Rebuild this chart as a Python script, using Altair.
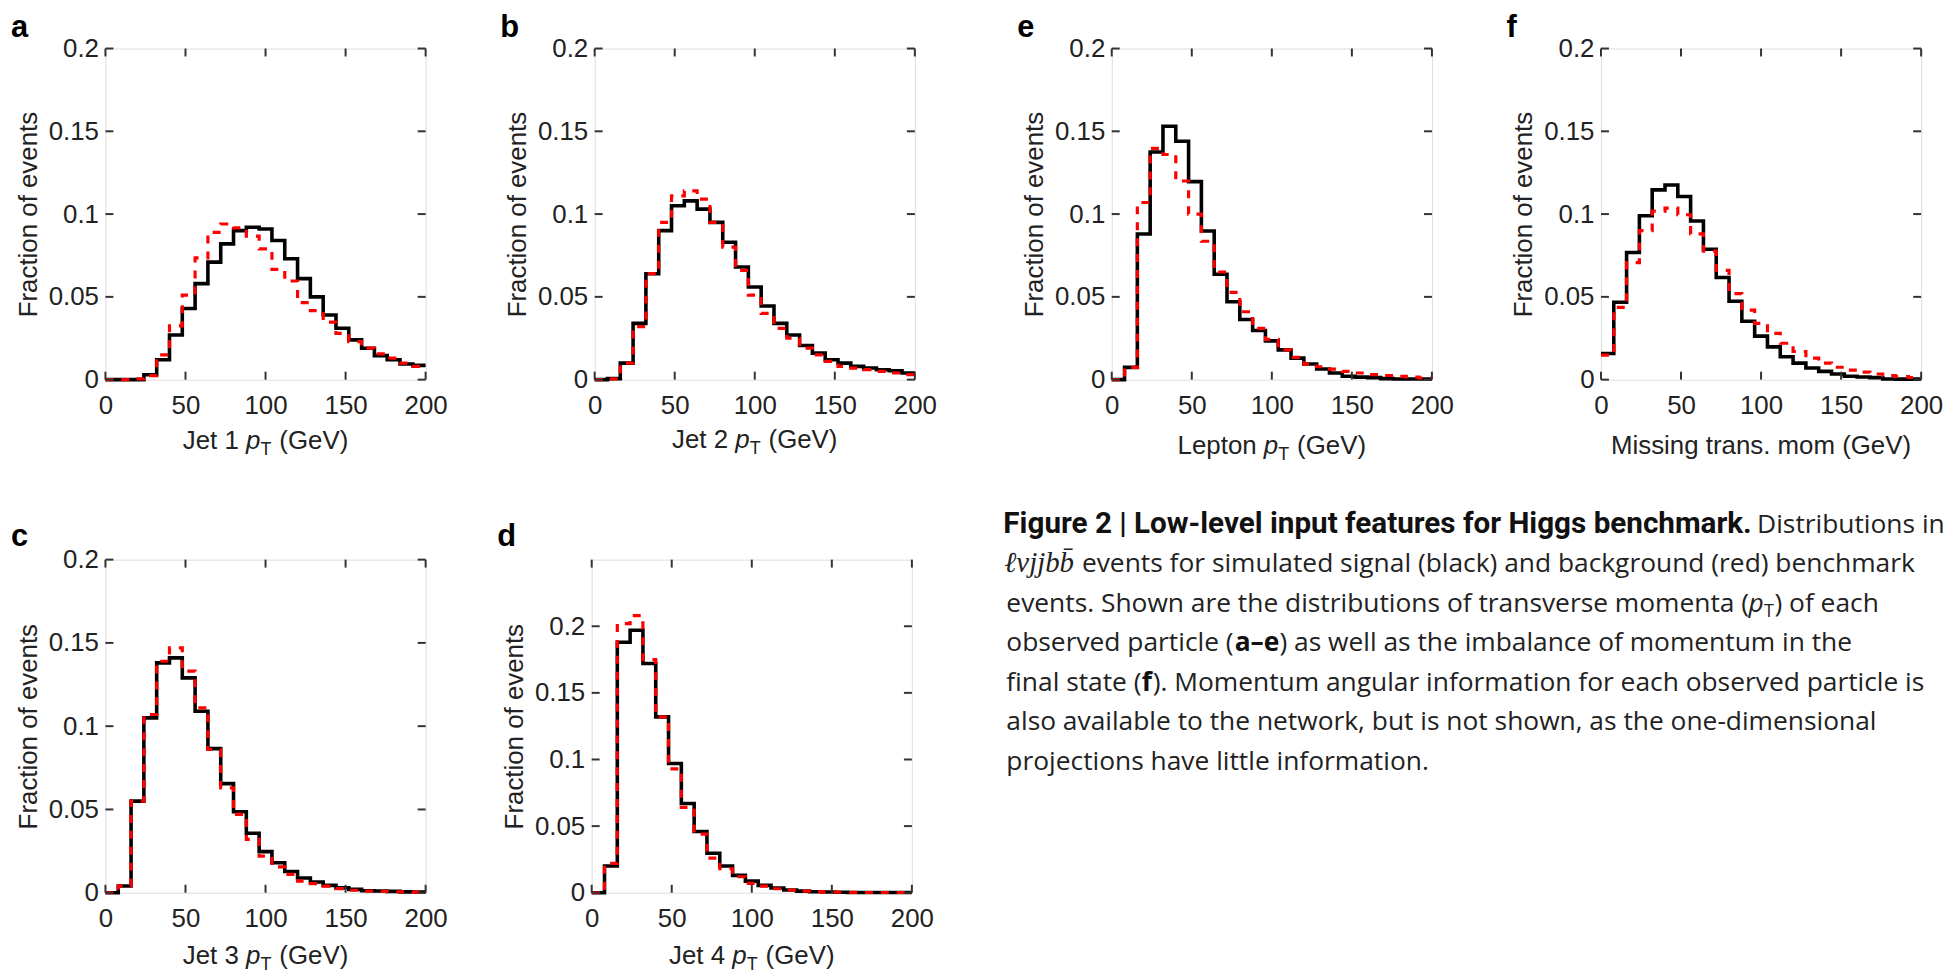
import altair as alt
import pandas as pd

# ------------------------------------------------------------------ data
bin_edges_gev = list(range(0, 201, 8))          # 25 bins of 8 GeV
x_tick_values = [0, 50, 100, 150, 200]
y_tick_values = [0, 0.05, 0.1, 0.15, 0.2]

jet1_signal = [0, 0, 0, 0.003, 0.012, 0.027, 0.043, 0.058, 0.071, 0.082, 0.090, 0.092, 0.091,
               0.084, 0.073, 0.061, 0.050, 0.039, 0.031, 0.024, 0.019, 0.0145, 0.012, 0.0094, 0.0086]
jet1_background = [0, 0, 0.0005, 0.0024, 0.015, 0.0325, 0.051, 0.0735, 0.089, 0.094, 0.0917, 0.0867,
                   0.079, 0.0666, 0.0596, 0.0465, 0.0417, 0.0347, 0.028, 0.023, 0.019, 0.0156, 0.013,
                   0.010, 0.008]

jet2_signal = [0, 0.0006, 0.010, 0.034, 0.064, 0.090, 0.105, 0.108, 0.103, 0.095, 0.083, 0.068, 0.056,
               0.0445, 0.034, 0.027, 0.0206, 0.016, 0.012, 0.010, 0.008, 0.007, 0.006, 0.0054, 0.004]
jet2_background = [0, 0.0005, 0.010, 0.032, 0.064, 0.095, 0.111, 0.114, 0.109, 0.095, 0.080, 0.066,
                   0.051, 0.040, 0.031, 0.025, 0.019, 0.015, 0.011, 0.008, 0.007, 0.006, 0.005, 0.004,
                   0.003]

jet3_signal = [0, 0.004, 0.055, 0.105, 0.138, 0.141, 0.129, 0.109, 0.0865, 0.0655, 0.0486, 0.0357,
               0.0247, 0.018, 0.0127, 0.0088, 0.0064, 0.0044, 0.003, 0.002, 0.0012, 0.001, 0.0008,
               0.0005, 0.0004]
jet3_background = [0, 0.004, 0.055, 0.107, 0.139, 0.147, 0.133, 0.111, 0.086, 0.063, 0.047, 0.032,
                   0.022, 0.0155, 0.011, 0.007, 0.0055, 0.004, 0.0025, 0.0015, 0.001, 0.0008, 0.0006,
                   0.0005, 0.0004]

jet4_signal = [0, 0.020, 0.188, 0.197, 0.172, 0.132, 0.097, 0.067, 0.046, 0.0296, 0.020, 0.013, 0.0087,
               0.0055, 0.0035, 0.002, 0.0012, 0.0008, 0.0005, 0.0004, 0.0002, 0.0002, 0.0002, 0.0002,
               0.0002]
jet4_background = [0, 0.022, 0.202, 0.208, 0.175, 0.132, 0.093, 0.064, 0.044, 0.026, 0.018, 0.012,
                   0.007, 0.005, 0.003, 0.002, 0.0012, 0.0008, 0.0005, 0.0004, 0.0003, 0.0002, 0.0002,
                   0.0002, 0.0002]

lepton_signal = [0, 0.0074, 0.088, 0.1375, 0.153, 0.144, 0.1196, 0.0898, 0.0637, 0.047, 0.0363, 0.0297,
                 0.0234, 0.018, 0.013, 0.0094, 0.0064, 0.004, 0.002, 0.0015, 0.0012, 0.0006, 0.0004,
                 0.0004, 0.0004]
lepton_background = [0, 0.0074, 0.107, 0.1397, 0.136, 0.120, 0.100, 0.0836, 0.065, 0.0527, 0.041,
                     0.031, 0.0243, 0.018, 0.0134, 0.0094, 0.0078, 0.0064, 0.005, 0.004, 0.003, 0.0025,
                     0.002, 0.0015, 0.001]

met_signal = [0.0158, 0.0467, 0.0768, 0.099, 0.1146, 0.1176, 0.1106, 0.0958, 0.0788, 0.0617, 0.0473,
              0.0353, 0.0263, 0.0198, 0.0138, 0.010, 0.007, 0.005, 0.0034, 0.002, 0.0016, 0.0012,
              0.0004, 0.0003, 0.0003]
met_background = [0.0148, 0.0437, 0.0707, 0.090, 0.1018, 0.1036, 0.0996, 0.088, 0.0776, 0.066, 0.052,
                  0.042, 0.034, 0.028, 0.022, 0.017, 0.013, 0.010, 0.0075, 0.0058, 0.0045, 0.0034,
                  0.0025, 0.0019, 0.0013]

caption_lines = [
    ["Figure 2 | Low-level input features for Higgs benchmark.", "Distributions in"],
    ["\u2113\u03bdjjbb\u0304", "events for simulated signal (black) and background (red) benchmark"],
    ["events. Shown are the distributions of transverse momenta (", "p", "T", ") of each"],
    ["observed particle (", "a\u2013e", ") as well as the imbalance of momentum in the"],
    ["final state (", "f", "). Momentum angular information for each observed particle is"],
    ["also available to the network, but is not shown, as the one-dimensional"],
    ["projections have little information."],
]
caption_styles = [
    ["head", "reg"],
    ["ital", "reg"],
    ["reg", "pit", "sub", "reg"],
    ["reg", "bold", "reg"],
    ["reg", "bold", "reg"],
    ["reg"],
    ["reg"],
]

# ------------------------------------------------------------------ style / layout
FONT = "Liberation Sans"
FS = 26
W = 322
INK = "#222222"
ARIAL = {' ': 278, '(': 333, ')': 333, '.': 278, '1': 556, '2': 556, '3': 556, '4': 556,
         'J': 500, 'e': 556, 't': 278, 'L': 556, 'p': 556, 'o': 556, 'n': 556, 'G': 778, 'V': 667,
         'T': 611, 'M': 833, 'i': 222, 's': 500, 'g': 556, 'r': 333, 'a': 556, 'm': 833}


def text_width(s, size):
    return sum(ARIAL.get(c, 556) for c in s) * size / 1000.0


def step_frame(values):
    return pd.DataFrame({"x": bin_edges_gev, "y": list(values) + [values[-1]]})


def one():
    return alt.Data(values=[{}])


def panel(letter, title_parts, signal, background, y_max, letter_dy, title_dy, height):
    xs = alt.Scale(domain=[0, 200], nice=False, zero=False)
    ys = alt.Scale(domain=[0, y_max], nice=False)
    xaxis = alt.Axis(values=x_tick_values, title=None, ticks=False, domain=False, grid=False,
                     labelFont=FONT, labelFontSize=FS, labelColor=INK, labelPadding=13,
                     labelFlush=False, labelOverlap=False)
    yaxis = alt.Axis(values=y_tick_values, format="~g", title="Fraction of events", ticks=False,
                     domain=False, grid=False, labelFont=FONT, labelFontSize=FS, labelColor=INK,
                     labelPadding=7, labelOverlap=False, titleFont=FONT, titleFontSize=FS,
                     titleFontWeight="normal", titleColor=INK, titlePadding=7)
    X = alt.X("x:Q", scale=xs, axis=xaxis)
    Y = alt.Y("y:Q", scale=ys, axis=yaxis)

    sig = alt.Chart(step_frame(signal)).mark_line(
        interpolate="step-after", color="black", strokeWidth=3.6).encode(x=X, y=Y)
    bkg = alt.Chart(step_frame(background)).mark_line(
        interpolate="step-after", color="#ff0000", strokeWidth=3.2, strokeDash=[8, 8]).encode(x=X, y=Y)

    xt = pd.DataFrame({"x": x_tick_values})
    yt = pd.DataFrame({"y": y_tick_values})
    tick_style = dict(color="#333333", strokeWidth=2)
    t_top = alt.Chart(xt).mark_rule(**tick_style).encode(x=X, y=alt.value(0), y2=alt.value(8))
    t_bot = alt.Chart(xt).mark_rule(**tick_style).encode(x=X, y=alt.value(height - 8), y2=alt.value(height))
    t_left = alt.Chart(yt).mark_rule(**tick_style).encode(y=Y, x=alt.value(0), x2=alt.value(8))
    t_right = alt.Chart(yt).mark_rule(**tick_style).encode(y=Y, x=alt.value(W - 8), x2=alt.value(W))

    lab = alt.Chart(one()).mark_text(
        text=letter, font=FONT, fontSize=31, fontWeight="bold", color="black",
        align="left", baseline="alphabetic").encode(x=alt.value(-95), y=alt.value(letter_dy))

    # x-axis title built from pieces (italic p, subscript T)
    sizes = {"n": FS, "i": FS, "sub": 18}
    gaps = {"n": 0, "i": 0, "sub": 8}
    total = sum(text_width(t, sizes[s]) + gaps[s] for t, s in title_parts)
    cur = W / 2.0 - total / 2.0
    pieces = []
    for t, s in title_parts:
        pieces.append(alt.Chart(one()).mark_text(
            text=t, font=FONT, fontSize=sizes[s], color=INK,
            fontStyle="italic" if s == "i" else "normal",
            align="left", baseline="alphabetic", dy=6 if s == "sub" else 0
        ).encode(x=alt.value(cur), y=alt.value(height + title_dy)))
        cur += text_width(t, sizes[s]) + gaps[s]

    return alt.layer(sig, bkg, t_top, t_bot, t_left, t_right, lab, *pieces).properties(
        width=W, height=height)


def pt_title(prefix):
    return [(prefix, "n"), ("p", "i"), ("T", "sub"), ("(GeV)", "n")]


pa = panel("a", pt_title("Jet 1 "), jet1_signal, jet1_background, 0.2, -12, 70, 333)
pb = panel("b", pt_title("Jet 2 "), jet2_signal, jet2_background, 0.2, -12, 69, 333)
pe = panel("e", pt_title("Lepton "), lepton_signal, lepton_background, 0.2, -12, 75, 333)
pf = panel("f", [("Missing trans. mom (GeV)", "n")], met_signal, met_background, 0.2, -12, 75, 333)
pc = panel("c", pt_title("Jet 3 "), jet3_signal, jet3_background, 0.2, -14, 72, 335)
pd_ = panel("d", pt_title("Jet 4 "), jet4_signal, jet4_background, 0.25, -14, 72, 335)

# ------------------------------------------------------------------ caption
# approximate Open Sans advance widths (units / 2048) used to let segments follow each other
OPEN_SANS = {' ': 532, '.': 545, ',': 502, '(': 608, ')': 608, '-': 659, 'S': 1126, 'a': 1139,
             'b': 1255, 'c': 975, 'd': 1255, 'e': 1149, 'f': 694, 'h': 1257, 'i': 518, 'l': 518,
             'm': 1905, 'n': 1257, 'o': 1237, 'p': 1255, 'r': 836, 's': 977, 't': 723, 'u': 1257,
             'v': 1026, 'w': 1593}
REG = 26.5
CAL = 0.965


def os_width(s, size=REG):
    return sum(OPEN_SANS.get(c, 1100) for c in s) / 2048.0 * size * CAL + 9


CAP_LEFT = 1000          # page x of caption view's left edge
ORIGIN_Y = 557           # page y of caption view's top (aligned with panel c/d plot tops)
BASE0 = 530              # page y of first caption baseline
LINE_H = 39.7
STY = {
    "head": dict(font="Roboto", fontSize=29.8, fontWeight="bold", color="#111111"),
    "reg": dict(font="Open Sans", fontSize=REG, color="#222222"),
    "bold": dict(font="Open Sans", fontSize=REG, fontWeight="bold", color="#111111"),
    "ital": dict(font="Liberation Serif", fontSize=29, fontStyle="italic", color="#222222"),
    "pit": dict(font="Open Sans", fontSize=REG, fontStyle="italic", color="#222222"),
    "sub": dict(font="Open Sans", fontSize=18, color="#222222", dy=5),
}

# segment start positions (page x), derived from line starts and text widths
x3 = 1007 + os_width(caption_lines[2][0]) + 16
x4 = 1007 + os_width(caption_lines[3][0])
x5 = 1007 + os_width(caption_lines[4][0]) - 4
caption_x = [
    [1004, 1762],
    [1005, 1083],
    [1007, x3, x3 + 15.5, x3 + 26.0],
    [1007, x4, x4 + 45],
    [1007, x5, x5 + 11],
    [1007],
    [1007],
]

cap_layers = []
for li, (segs, styles, xs_) in enumerate(zip(caption_lines, caption_styles, caption_x)):
    for t, s, xa in zip(segs, styles, xs_):
        cap_layers.append(alt.Chart(one()).mark_text(
            text=t, align="left", baseline="alphabetic", **STY[s]
        ).encode(x=alt.value(xa - CAP_LEFT), y=alt.value(BASE0 + li * LINE_H - ORIGIN_Y)))
caption = alt.layer(*cap_layers).properties(
    width=940, height=260, view=alt.ViewBackground(stroke="transparent"))

top = alt.hconcat(alt.hconcat(pa, pb, spacing=51), alt.hconcat(pe, pf, spacing=51), spacing=79)
bottom = alt.hconcat(alt.hconcat(pc, pd_, spacing=48), caption, spacing=64)
chart = alt.vconcat(top, bottom, spacing=43).properties(
    padding={"left": 2, "top": 0, "right": 2, "bottom": 0}
).configure_view(stroke="#111111", strokeWidth=2).configure(background="white")

chart.save("out.html", embed_options={"renderer": "svg", "actions": False})
